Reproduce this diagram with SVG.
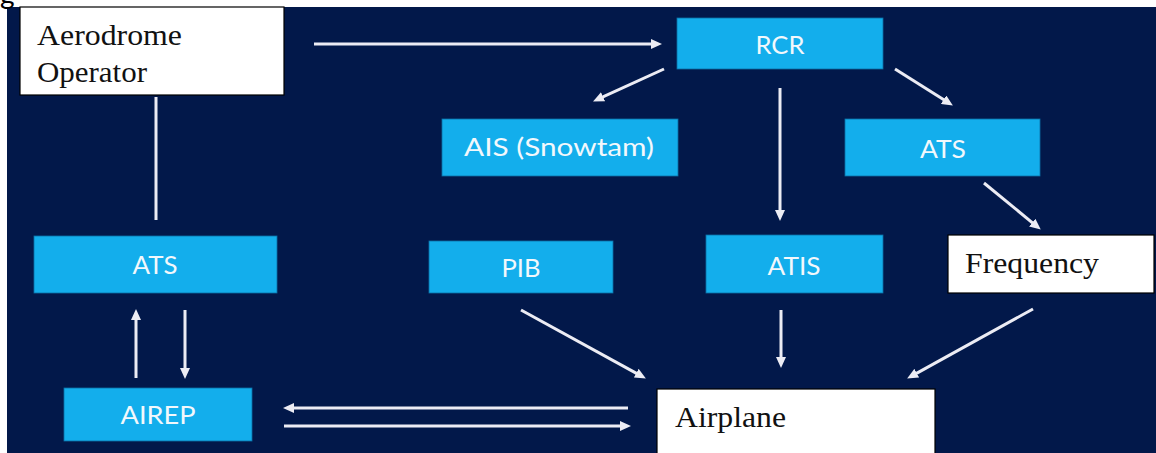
<svg xmlns="http://www.w3.org/2000/svg" width="1156" height="453" viewBox="0 0 1156 453">
  <style>
    .blue { fill: #13aeec; stroke: #0b6fa6; stroke-width: 0.8; }
    .white { fill: #ffffff; stroke: #000000; stroke-width: 1.2; }
    .lbl { font-family: Lato, "Open Sans", "Liberation Sans", sans-serif; font-size: 25px; fill: #f2f8fc; text-anchor: middle; }
    .serif { font-family: "Liberation Serif", "Times New Roman", serif; font-size: 29px; fill: #111111; }
    .conn { stroke: #ececf4; stroke-width: 3; fill: none; }
    .arrow { marker-end: url(#head); }
  </style>
  <defs>
    <marker id="head" markerUnits="userSpaceOnUse" markerWidth="11" markerHeight="10" refX="5" refY="5" orient="auto">
      <path d="M0,0 L11,5 L0,10 Z" fill="#ececf4"/>
    </marker>
  </defs>

  <!-- page and panel background -->
  <rect x="0" y="0" width="1156" height="453" fill="#ffffff"/>
  <rect x="7" y="7" width="1149" height="446" fill="#02184a"/>
  <text x="0" y="4" font-family="Lato, 'Liberation Sans', sans-serif" font-size="28" fill="#000000">g</text>

  <!-- connectors -->
  <g id="connectors">
    <line class="conn arrow" x1="314" y1="44" x2="656" y2="44"/>
    <line class="conn arrow" x1="664" y1="69" x2="598.5" y2="98.9"/>
    <line class="conn arrow" x1="780" y1="88" x2="780" y2="215"/>
    <line class="conn arrow" x1="895" y1="69" x2="947.8" y2="102.3"/>
    <line class="conn arrow" x1="984" y1="183" x2="1036.1" y2="225.8"/>
    <line class="conn arrow" x1="521" y1="310" x2="640.6" y2="375.6"/>
    <line class="conn arrow" x1="781" y1="310" x2="781" y2="362"/>
    <line class="conn arrow" x1="1033" y1="309" x2="912.4" y2="375.6"/>
    <line class="conn arrow" x1="628" y1="408" x2="289" y2="408"/>
    <line class="conn arrow" x1="284" y1="426" x2="625" y2="426"/>
    <line class="conn arrow" x1="136" y1="378" x2="136" y2="315"/>
    <line class="conn arrow" x1="185" y1="310" x2="185" y2="373"/>
    <line class="conn" x1="156" y1="97" x2="156" y2="220"/>
  </g>

  <!-- nodes -->
  <g id="aerodrome-operator">
    <rect class="white" x="20" y="7" width="264" height="88"/>
    <text class="serif" x="37" y="45" textLength="145" lengthAdjust="spacingAndGlyphs">Aerodrome</text>
    <text class="serif" x="37" y="82" textLength="110" lengthAdjust="spacingAndGlyphs">Operator</text>
  </g>
  <g id="rcr">
    <rect class="blue" x="677" y="18" width="206" height="51"/>
    <text class="lbl" x="780" y="54" textLength="49" lengthAdjust="spacingAndGlyphs">RCR</text>
  </g>
  <g id="ais">
    <rect class="blue" x="442" y="119" width="236" height="57"/>
    <text class="lbl" x="559" y="156" textLength="190" lengthAdjust="spacingAndGlyphs">AIS (Snowtam)</text>
  </g>
  <g id="ats-right">
    <rect class="blue" x="845" y="119" width="195" height="57"/>
    <text class="lbl" x="943" y="158" textLength="46" lengthAdjust="spacingAndGlyphs">ATS</text>
  </g>
  <g id="ats-left">
    <rect class="blue" x="34" y="236" width="243" height="57"/>
    <text class="lbl" x="155" y="274" textLength="45" lengthAdjust="spacingAndGlyphs">ATS</text>
  </g>
  <g id="pib">
    <rect class="blue" x="429" y="241" width="184" height="52"/>
    <text class="lbl" x="521" y="277" textLength="39" lengthAdjust="spacingAndGlyphs">PIB</text>
  </g>
  <g id="atis">
    <rect class="blue" x="706" y="235" width="177" height="58"/>
    <text class="lbl" x="794" y="275" textLength="53" lengthAdjust="spacingAndGlyphs">ATIS</text>
  </g>
  <g id="frequency">
    <rect class="white" x="948" y="235" width="206" height="58"/>
    <text class="serif" x="965" y="273" textLength="134" lengthAdjust="spacingAndGlyphs">Frequency</text>
  </g>
  <g id="airep">
    <rect class="blue" x="64" y="388" width="188" height="53"/>
    <text class="lbl" x="158" y="424" textLength="75" lengthAdjust="spacingAndGlyphs">AIREP</text>
  </g>
  <g id="airplane">
    <rect class="white" x="657" y="389" width="278" height="70"/>
    <text class="serif" x="675" y="427" textLength="111" lengthAdjust="spacingAndGlyphs">Airplane</text>
  </g>
</svg>
